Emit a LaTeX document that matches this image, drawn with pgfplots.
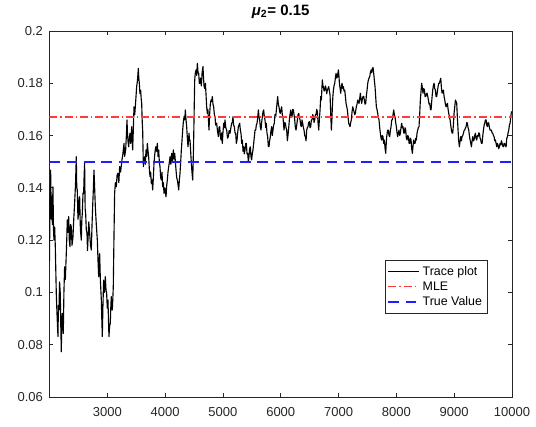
\documentclass[border=0pt]{standalone}
\usepackage{pgfplots}
\pgfplotsset{compat=1.18}
\usepackage{pgfplotstable}
\usepackage{fontspec}
\setmainfont{Liberation Sans}

\definecolor{axisgray}{gray}{0.15}
\definecolor{mlered}{RGB}{255,60,60}
\definecolor{truevblue}{RGB}{30,30,255}

% MCMC trace of mu_2 (iteration, value)
\pgfplotstableread{
it val
2000 0.112
2010 0.135
2020 0.1468
2032 0.128
2043 0.1366
2050 0.126
2060 0.1404
2070 0.124
2078 0.1200
2090 0.125
2101 0.1175
2110 0.108
2118 0.0996
2130 0.092
2147 0.0831
2155 0.095
2164 0.0933
2175 0.104
2187 0.0996
2195 0.088
2205 0.0773
2213 0.090
2222 0.0920
2230 0.087
2239 0.0843
2250 0.100
2262 0.1098
2275 0.105
2291 0.1149
2300 0.121
2308 0.1277
2320 0.123
2332 0.1290
2343 0.120
2355 0.1175
2365 0.126
2378 0.1251
2390 0.118
2407 0.1213
2420 0.128
2435 0.1341
2450 0.141
2464 0.1519
2472 0.140
2481 0.1392
2493 0.128
2505 0.1302
2513 0.136
2522 0.1366
2535 0.124
2551 0.1200
2560 0.128
2568 0.1302
2580 0.138
2591 0.1379
2600 0.145
2608 0.1494
2617 0.132
2626 0.1302
2637 0.124
2649 0.1226
2658 0.116
2666 0.1200
2680 0.127
2695 0.1226
2710 0.118
2724 0.1162
2735 0.125
2747 0.1328
2760 0.140
2770 0.1468
2780 0.141
2793 0.1328
2810 0.126
2828 0.1200
2840 0.112
2851 0.1060
2860 0.113
2868 0.1149
2880 0.105
2897 0.0971
2905 0.090
2914 0.0831
2925 0.095
2937 0.1047
2950 0.100
2966 0.1060
2978 0.101
2989 0.0996
3000 0.094
3012 0.0971
3020 0.090
3029 0.0831
3040 0.087
3052 0.0882
3062 0.095
3070 0.0984
3080 0.094
3087 0.0933
3095 0.097
3104 0.1022
3115 0.120
3127 0.1379
3140 0.142
3156 0.1404
3170 0.145
3185 0.1456
3200 0.142
3214 0.1481
3230 0.146
3254 0.1507
3270 0.153
3289 0.1570
3300 0.152
3318 0.1545
3330 0.160
3341 0.1660
3347 0.1621
3358 0.158
3370 0.1557
3382 0.159
3393 0.1609
3405 0.157
3422 0.1634
3432 0.158
3439 0.1545
3450 0.162
3462 0.1710
3475 0.168
3485 0.1710
3497 0.175
3508 0.1787
3522 0.181
3537 0.1857
3545 0.182
3554 0.1800
3565 0.176
3577 0.1774
3587 0.174
3595 0.1723
3605 0.165
3612 0.1621
3618 0.155
3624 0.1481
3635 0.151
3647 0.1519
3658 0.149
3670 0.1545
3682 0.152
3693 0.1570
3705 0.154
3716 0.1519
3728 0.147
3739 0.1443
3750 0.146
3762 0.1417
3773 0.143
3785 0.1392
3797 0.144
3808 0.1494
3822 0.153
3837 0.1557
3850 0.154
3866 0.1570
3878 0.152
3889 0.1545
3900 0.150
3912 0.1481
3923 0.144
3935 0.1430
3946 0.146
3958 0.1404
3970 0.142
3981 0.1379
3995 0.140
4016 0.1366
4028 0.141
4039 0.1430
4050 0.146
4062 0.1481
4075 0.150
4085 0.1519
4100 0.149
4114 0.1532
4128 0.150
4143 0.1545
4155 0.151
4166 0.1532
4178 0.150
4189 0.1468
4200 0.144
4212 0.1430
4225 0.141
4235 0.1392
4247 0.143
4258 0.1456
4270 0.150
4281 0.1545
4292 0.158
4304 0.1621
4315 0.165
4327 0.1672
4340 0.166
4350 0.1698
4362 0.166
4373 0.1634
4385 0.159
4396 0.1557
4405 0.158
4414 0.1609
4422 0.158
4431 0.1583
4442 0.154
4454 0.1494
4465 0.146
4477 0.1430
4486 0.150
4494 0.1583
4503 0.170
4512 0.1813
4523 0.184
4535 0.1851
4546 0.183
4558 0.1876
4570 0.184
4581 0.1838
4592 0.180
4604 0.1800
4615 0.1820
4627 0.1790
4640 0.1840
4655 0.1864
4665 0.182
4673 0.1790
4685 0.178
4697 0.1800
4707 0.1760
4719 0.1710
4730 0.1685
4740 0.1700
4750 0.1660
4759 0.1621
4770 0.1680
4782 0.1720
4794 0.1736
4805 0.173
4817 0.1749
4828 0.172
4840 0.1710
4852 0.168
4863 0.1672
4875 0.164
4892 0.1647
4905 0.162
4921 0.1596
4932 0.163
4944 0.1634
4955 0.160
4967 0.1583
4978 0.161
4990 0.1570
5000 0.161
5013 0.1647
5025 0.163
5036 0.1660
5050 0.163
5065 0.1621
5080 0.159
5094 0.1596
5108 0.162
5123 0.1609
5138 0.163
5151 0.1647
5162 0.165
5174 0.1672
5185 0.164
5197 0.1634
5210 0.161
5221 0.1609
5232 0.157
5244 0.1583
5255 0.161
5267 0.1634
5278 0.164
5290 0.1647
5302 0.162
5313 0.1609
5325 0.157
5336 0.1583
5348 0.154
5359 0.1557
5370 0.153
5382 0.1545
5394 0.157
5405 0.1570
5417 0.153
5428 0.1532
5440 0.150
5451 0.1519
5462 0.155
5474 0.1557
5485 0.152
5497 0.1507
5508 0.153
5520 0.1545
5532 0.157
5544 0.1596
5555 0.162
5567 0.1621
5578 0.164
5590 0.1647
5602 0.167
5613 0.1698
5625 0.167
5636 0.1660
5648 0.163
5659 0.1621
5670 0.165
5682 0.1672
5693 0.169
5705 0.1698
5717 0.167
5728 0.1660
5740 0.163
5751 0.1647
5762 0.161
5774 0.1596
5785 0.156
5797 0.1557
5808 0.158
5820 0.1596
5832 0.162
5843 0.1634
5855 0.160
5866 0.1621
5878 0.164
5889 0.1647
5900 0.168
5913 0.1672
5930 0.171
5947 0.1749
5958 0.172
5970 0.1710
5982 0.169
5993 0.1685
6005 0.170
6016 0.1710
6027 0.168
6039 0.1670
6057 0.1621
6068 0.165
6080 0.1647
6092 0.163
6103 0.1621
6115 0.158
6126 0.1602
6138 0.163
6149 0.1660
6160 0.168
6173 0.1698
6185 0.167
6196 0.1672
6207 0.170
6219 0.1698
6230 0.168
6242 0.1660
6253 0.163
6265 0.1621
6277 0.164
6288 0.1660
6300 0.168
6311 0.1685
6322 0.167
6334 0.1660
6345 0.164
6357 0.1634
6368 0.166
6380 0.1647
6392 0.163
6403 0.1621
6415 0.160
6426 0.1596
6438 0.158
6449 0.1621
6460 0.163
6472 0.1634
6483 0.165
6495 0.1653
6507 0.163
6519 0.1634
6530 0.166
6542 0.1660
6553 0.168
6565 0.1672
6577 0.165
6588 0.1660
6600 0.168
6611 0.1679
6622 0.170
6634 0.1691
6645 0.165
6657 0.1621
6668 0.166
6680 0.1698
6692 0.175
6703 0.1736
6712 0.178
6720 0.1813
6730 0.179
6738 0.1787
6750 0.177
6761 0.1774
6772 0.179
6784 0.1781
6795 0.176
6807 0.1774
6818 0.178
6830 0.1787
6842 0.177
6853 0.1755
6865 0.168
6876 0.1621
6885 0.166
6893 0.1710
6902 0.175
6911 0.1774
6922 0.179
6934 0.1800
6945 0.182
6957 0.1838
6968 0.182
6980 0.1825
6990 0.184
6997 0.1851
7006 0.183
7015 0.1800
7027 0.178
7038 0.1762
7050 0.179
7061 0.1800
7072 0.178
7084 0.1787
7095 0.177
7107 0.1774
7118 0.175
7130 0.1723
7142 0.171
7153 0.1698
7165 0.167
7176 0.1647
7188 0.164
7199 0.1634
7210 0.165
7222 0.1660
7233 0.169
7245 0.1710
7257 0.170
7268 0.1691
7280 0.168
7291 0.1685
7300 0.170
7308 0.1710
7320 0.172
7331 0.1736
7342 0.173
7354 0.1723
7365 0.174
7377 0.1762
7388 0.174
7400 0.1723
7412 0.174
7423 0.1749
7435 0.175
7446 0.1736
7458 0.172
7470 0.1723
7480 0.175
7493 0.1774
7505 0.180
7516 0.1813
7528 0.182
7539 0.1825
7550 0.184
7562 0.1851
7573 0.184
7585 0.1857
7597 0.186
7608 0.1838
7620 0.181
7631 0.1787
7642 0.175
7654 0.1710
7665 0.170
7677 0.1685
7688 0.167
7700 0.1660
7712 0.163
7723 0.1609
7735 0.159
7746 0.1583
7757 0.160
7769 0.1596
7780 0.157
7792 0.1583
7805 0.155
7816 0.1532
7825 0.157
7833 0.1596
7848 0.162
7862 0.1621
7873 0.160
7885 0.1596
7897 0.162
7908 0.1634
7920 0.166
7931 0.1660
7942 0.168
7954 0.1698
7965 0.168
7977 0.1672
7988 0.165
8000 0.1634
8012 0.161
8023 0.1596
8035 0.161
8046 0.1621
8058 0.160
8069 0.1609
8080 0.163
8092 0.1647
8103 0.163
8115 0.1634
8127 0.161
8138 0.1609
8150 0.163
8162 0.1621
8173 0.159
8185 0.1583
8196 0.160
8208 0.1596
8220 0.157
8231 0.1570
8242 0.159
8254 0.1583
8265 0.155
8277 0.1532
8288 0.156
8300 0.1583
8312 0.157
8323 0.1570
8335 0.159
8346 0.1583
8358 0.161
8369 0.1621
8380 0.163
8392 0.1634
8403 0.168
8415 0.1736
8427 0.177
8438 0.1800
8450 0.178
8461 0.1762
8473 0.178
8485 0.1774
8496 0.175
8508 0.1749
8520 0.176
8531 0.1762
8543 0.175
8554 0.1736
8566 0.172
8577 0.1723
8590 0.170
8600 0.1698
8611 0.173
8623 0.1762
8629 0.1774
8640 0.179
8652 0.1800
8663 0.178
8675 0.1774
8686 0.175
8698 0.1749
8710 0.177
8721 0.1787
8733 0.180
8744 0.1800
8756 0.181
8768 0.1819
8780 0.178
8791 0.1762
8802 0.177
8814 0.1774
8825 0.175
8837 0.1736
8848 0.172
8860 0.1710
8872 0.172
8883 0.1723
8895 0.170
8906 0.1685
8918 0.167
8929 0.1660
8940 0.164
8952 0.1621
8963 0.161
8975 0.1609
8986 0.164
8998 0.1685
9010 0.171
9021 0.1736
9032 0.173
9044 0.1723
9055 0.167
9067 0.1621
9078 0.158
9090 0.1557
9102 0.158
9114 0.1596
9125 0.158
9137 0.1596
9148 0.160
9160 0.1609
9172 0.162
9183 0.1621
9195 0.163
9206 0.1634
9218 0.165
9229 0.1647
9240 0.163
9252 0.1621
9263 0.160
9275 0.1583
9287 0.157
9298 0.1557
9310 0.158
9321 0.1596
9332 0.158
9344 0.1583
9355 0.160
9367 0.1609
9378 0.159
9390 0.1583
9402 0.160
9413 0.1596
9425 0.161
9436 0.1609
9448 0.159
9460 0.1583
9471 0.157
9483 0.1570
9495 0.160
9506 0.1621
9518 0.164
9529 0.1647
9540 0.166
9552 0.1660
9563 0.164
9575 0.1634
9587 0.165
9598 0.1647
9610 0.163
9621 0.1621
9633 0.162
9644 0.1621
9656 0.161
9667 0.1609
9679 0.160
9690 0.1596
9702 0.158
9713 0.1583
9725 0.157
9736 0.1557
9748 0.157
9759 0.1564
9770 0.155
9782 0.1557
9794 0.157
9806 0.1564
9817 0.158
9829 0.1570
9840 0.156
9852 0.1557
9863 0.157
9875 0.1570
9887 0.156
9898 0.1557
9910 0.159
9921 0.1596
9932 0.161
9944 0.1621
9955 0.164
9967 0.1647
9978 0.167
9990 0.1691
10000 0.1685
}\tracedata

\begin{document}
\begin{tikzpicture}
\begin{axis}[
  scale only axis,
  width=346.9pt, height=274.5pt,
  xmin=2000, xmax=10000,
  ymin=0.06, ymax=0.2,
  xtick={3000,4000,...,10000},
  ytick={0.06,0.08,...,0.2},
  scaled x ticks=false, scaled y ticks=false,
  xticklabel style={/pgf/number format/set thousands separator={}, yshift=-4.5pt},
  yticklabel style={/pgf/number format/fixed, /pgf/number format/precision=2, xshift=-1.4pt},
  /pgf/number format/assume math mode=true,
  tick label style={font=\fontsize{9.75}{11}\selectfont, text=axisgray},
  tick align=inside,
  major tick length=3pt,
  axis line style={axisgray, line width=0.6pt},
  every tick/.style={axisgray, line width=0.6pt},
  legend style={at={(0.948,0.374)}, anchor=north east, draw=axisgray,
    line width=0.5pt, font=\fontsize{9.3}{10}\selectfont, fill=white,
    inner xsep=2pt, inner ysep=2pt, row sep=-1pt,
    nodes={inner sep=2.2pt}},
  legend cell align=left,
  legend image code/.code={\draw[#1] (0pt,0pt) -- (23pt,0pt);},
]
\coordinate (ll) at (rel axis cs:0,0);
\coordinate (ur) at (rel axis cs:1,1);
\coordinate (tc) at (rel axis cs:0.5,1);
\addplot[black, line width=0.85pt, line join=round] table[x=it, y=val] {\tracedata};
\addlegendentry{Trace plot}
\addplot[draw=mlered, line width=0.9pt, dash pattern=on 6pt off 2.25pt on 1pt off 2.25pt]
  coordinates {(2000,0.1671) (10000,0.1671)};
\addlegendentry{MLE}
\addplot[draw=truevblue, line width=1.2pt, dash pattern=on 8pt off 5pt]
  coordinates {(2000,0.15) (10000,0.15)};
\addlegendentry{True Value}
\end{axis}
% title above the axis box
\node[anchor=base, inner sep=0pt] at ([yshift=11.5pt]tc)
  {\fontsize{11.25}{13}\selectfont\bfseries{\itshape μ}\textsubscript{2}= 0.15};
\pgfresetboundingbox
\path ([xshift=-37.1pt,yshift=-22.5pt]ll) rectangle ([xshift=18pt,yshift=23.25pt]ur);
\end{tikzpicture}
\end{document}
